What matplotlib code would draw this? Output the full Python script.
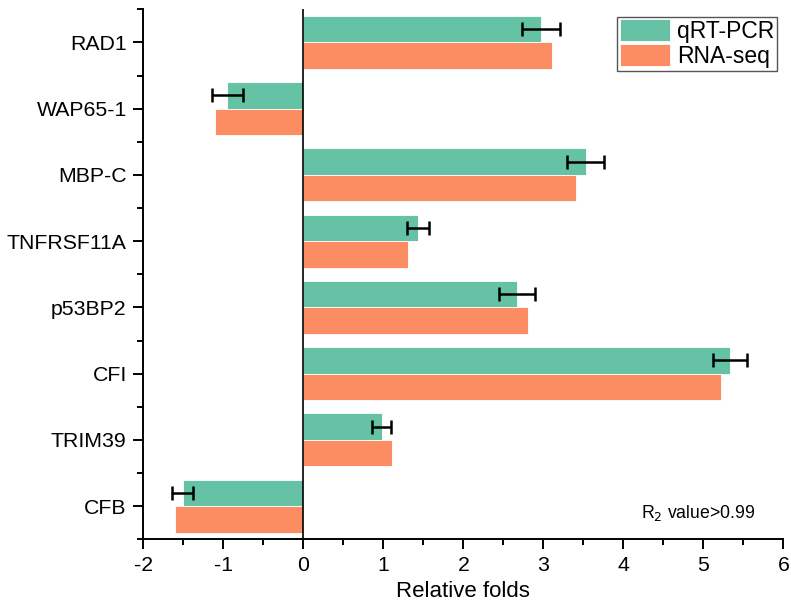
"""qRT-PCR vs RNA-seq relative folds, horizontal grouped bars."""
import matplotlib
matplotlib.use("Agg")
import matplotlib.pyplot as plt
import numpy as np

plt.rcParams["font.family"] = ["Liberation Sans", "DejaVu Sans"]
plt.rcParams["axes.unicode_minus"] = False

genes = ["RAD1", "WAP65-1", "MBP-C", "TNFRSF11A", "p53BP2", "CFI", "TRIM39", "CFB"]
qrt_pcr = [2.97, -0.95, 3.53, 1.43, 2.67, 5.33, 0.98, -1.51]
qrt_err = [0.24, 0.19, 0.23, 0.135, 0.23, 0.21, 0.12, 0.13]
rna_seq = [3.11, -1.10, 3.41, 1.31, 2.81, 5.22, 1.11, -1.61]

GREEN = "#66C2A5"
ORANGE = "#FC8D62"

fig = plt.figure(figsize=(7.91, 6.08), dpi=100)
ax = fig.add_axes([0.1812, 0.113, 0.8091, 0.8717])

y = np.arange(len(genes))
h = 0.4
ax.barh(y - h / 2, qrt_pcr, height=h, color=GREEN, edgecolor="white",
        linewidth=0.6, label="qRT-PCR", zorder=2)
ax.barh(y + h / 2, rna_seq, height=h, color=ORANGE, edgecolor="white",
        linewidth=0.6, label="RNA-seq", zorder=2)
ax.errorbar(qrt_pcr, y - h / 2, xerr=qrt_err, fmt="none", ecolor="black",
            elinewidth=1.8, capsize=5, capthick=1.8, zorder=3)

ax.axvline(0, color="black", linewidth=1.2, zorder=4)

ax.set_xlim(-2, 6)
ax.set_ylim(7.5, -0.5)
ax.set_yticks(y)
ax.set_yticklabels(genes)
ax.set_yticks(np.arange(-0.5, 8, 1), minor=True)
ax.set_xticks(np.arange(-2, 7, 1))
ax.set_xticks(np.arange(-1.5, 6, 1), minor=True)

for s in ["top", "right"]:
    ax.spines[s].set_visible(False)
for s in ["left", "bottom"]:
    ax.spines[s].set_linewidth(1.4)

ax.tick_params(which="major", length=7, width=1.4, labelsize=15.3, pad=5)
ax.tick_params(which="minor", length=4, width=1.4)
ax.set_xlabel("Relative folds", fontsize=16, labelpad=4)

ax.legend(loc="upper right", bbox_to_anchor=(0.997, 0.995), fontsize=16.5,
          fancybox=False, edgecolor="#555555", framealpha=1,
          handlelength=2.2, handleheight=1.1, handletextpad=0.3,
          borderpad=0.12, labelspacing=0.05, borderaxespad=0.2)

ax.text(0.778, 0.04, r"R$_2$ value>0.99", transform=ax.transAxes,
        fontsize=12.7, ha="left", va="baseline")

fig.savefig("out.png", dpi=100)
